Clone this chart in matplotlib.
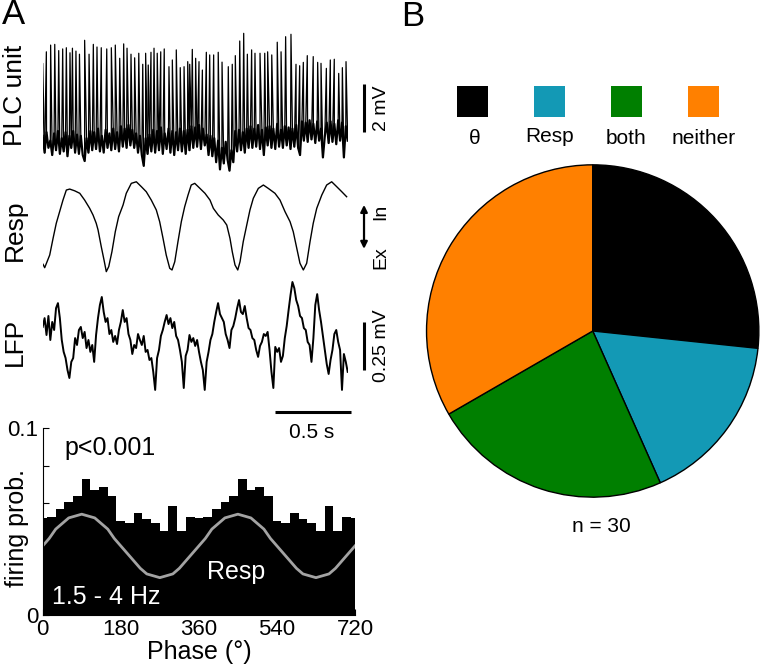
import numpy as np
import matplotlib
matplotlib.use("Agg")
import matplotlib.pyplot as plt
from matplotlib.patches import Rectangle

plt.rcParams['font.family'] = ['Liberation Sans', 'DejaVu Sans']

# ---------------- data ----------------
# PLC unit: baseline samples (mV) every 12.5 ms over 2 s
plc_dt = 0.0125
plc_baseline_mv = [
    0.3, -0.4, 0.45, -0.2, 0.1, -0.5, 0.4, -0.3, 0.5, -0.45, 0.2, -0.35, 0.45, -0.55, 0.3, -0.2, 0.5, -0.4, 0.35, -0.45,
    0.3, -0.5, -0.75, 0.2, -0.4,
    0.5, -0.3, 0.45, -0.25, 0.6, -0.35, 0.3, -0.4, 0.55, -0.2, 0.4, -0.3, 0.6, -0.25, 0.45, -0.35,
    0.7, -0.15, 0.6, -0.2, 0.75, -0.1, 0.55, -0.2,
    0.4, -0.4, 0.3, -0.5, -0.95, 0.2, -0.45, 0.35,
    -0.35, 0.55, -0.4, 0.5, -0.3, 0.65, -0.45, 0.4, -0.25, 0.6, -0.4, 0.5, -0.5, 0.45, -0.3, 0.6, -0.35, 0.5, -0.45, 0.55, -0.3,
    0.7, -0.2, 0.65, -0.15, 0.75, -0.25, 0.6, -0.1,
    0.35, -0.5, 0.3, -0.55, 0.2,
    -0.8, 0.1, -1.1, -0.2, -0.85, 0.05, -0.7, -1.15, -0.3, -0.8,
    0.5, -0.35, 0.55, -0.3, 0.45, -0.4, 0.6, -0.2,
    0.7, -0.2, 0.6, -0.15, 0.75, -0.25, 0.55, -0.5, 0.65, -0.1, 0.7, -0.2, 0.6, -0.25, 0.8, -0.15, 0.55, -0.2, 0.7, -0.1,
    0.65, -0.25, 0.6, -0.15, 0.75, -0.2,
    -0.5, 0.9, 0.1, 0.85, 0.05, 0.95, 0.15, 0.8, 0.0, 0.9, 0.1,
    0.6, -0.6, 0.3,
    0.85, 0.0, 0.9, 0.05, 0.8, -0.05, 0.95, 0.1, 0.85, -0.6, 0.7, 0.1,
]
spike_t = [0.000, 0.024, 0.052, 0.079, 0.105, 0.131, 0.155, 0.179, 0.195, 0.218, 0.241, 0.275, 0.304, 0.332,
           0.356, 0.384, 0.420, 0.450, 0.476, 0.505, 0.531, 0.553, 0.579, 0.603, 0.630, 0.656, 0.675, 0.692,
           0.710, 0.730, 0.751, 0.774, 0.797, 0.828, 0.850, 0.876, 0.902, 0.927, 0.951, 0.964, 0.981, 1.003,
           1.025, 1.047, 1.073, 1.095, 1.121, 1.151, 1.176, 1.217, 1.243, 1.263, 1.292, 1.318, 1.342, 1.370,
           1.392, 1.425, 1.456, 1.475, 1.502, 1.538, 1.563, 1.593, 1.628, 1.661, 1.685, 1.709, 1.735, 1.774,
           1.803, 1.825, 1.860, 1.886, 1.912, 1.941, 1.965, 1.989]
spike_peak_mv = [3.32, 3.80, 4.08, 4.11, 3.85, 3.92, 3.97, 3.76, 3.95, 3.83, 3.70, 4.28, 3.70, 4.11,
                 4.00, 3.97, 3.92, 3.97, 4.08, 3.53, 4.13, 3.95, 3.70, 3.55, 3.74, 3.28, 3.74, 3.25,
                 3.78, 3.95, 3.74, 3.80, 3.92, 3.18, 3.46, 3.88, 3.14, 3.18, 3.39, 3.28, 3.90, 3.53,
                 3.39, 3.04, 3.78, 3.67, 3.67, 3.78, 3.37, 3.18, 3.28, 3.64, 4.25, 4.57, 3.70, 3.88,
                 3.74, 3.74, 3.74, 3.80, 3.67, 4.20, 3.80, 4.43, 4.53, 3.28, 3.22, 3.36, 3.64, 3.60,
                 3.36, 3.32, 3.11, 3.46, 3.49, 2.90, 3.14, 3.39]

# Respiration (normalized, inspiration up)
resp_t = [0.002, 0.013, 0.046, 0.068, 0.089, 0.111, 0.133, 0.155, 0.177, 0.210, 0.243, 0.275, 0.308, 0.330,
          0.351, 0.363, 0.384, 0.402, 0.417, 0.433, 0.454, 0.476, 0.498, 0.527, 0.548, 0.581, 0.614, 0.647,
          0.679, 0.712, 0.745, 0.767, 0.789, 0.810, 0.833, 0.848, 0.866, 0.887, 0.909, 0.931, 0.953, 0.974,
          0.997, 1.031, 1.064, 1.097, 1.119, 1.151, 1.184, 1.207, 1.228, 1.243, 1.261, 1.279, 1.294, 1.315,
          1.338, 1.359, 1.381, 1.414, 1.447, 1.479, 1.523, 1.556, 1.589, 1.622, 1.643, 1.666, 1.687, 1.709,
          1.731, 1.753, 1.774, 1.797, 1.830, 1.862, 1.895, 1.928, 1.961, 1.993]
resp_v = [0.065, 0.026, 0.170, 0.360, 0.531, 0.663, 0.795, 0.909, 0.92, 0.90, 0.872, 0.795, 0.701, 0.625,
          0.531, 0.455, 0.265, 0.114, -0.019, 0.038, 0.208, 0.435, 0.606, 0.739, 0.872, 0.985, 1.003, 0.947,
          0.890, 0.795, 0.682, 0.549, 0.360, 0.170, 0.019, 0.000, 0.094, 0.322, 0.549, 0.719, 0.852, 0.966,
          0.985, 0.928, 0.872, 0.795, 0.701, 0.625, 0.568, 0.511, 0.360, 0.208, 0.057, 0.000, 0.094, 0.322,
          0.511, 0.682, 0.815, 0.928, 0.966, 0.928, 0.872, 0.795, 0.663, 0.549, 0.435, 0.247, 0.076, 0.000,
          0.076, 0.322, 0.531, 0.701, 0.852, 0.966, 1.003, 0.947, 0.890, 0.833]

# LFP (µV) every 12.5 ms
lfp_dt = 0.0125
lfp_uv = [42, 88, 0, 99, -26, 68, 26, 140, 166, 88, -26, -88, -120, -182, -224, -140, -120, -16, -52, 26,
          42, -16, 16, -68, -26, -88, -52, -140, 0, 88, 156, 198, 120, 68, 88, 5, 26, -36, -5, -47,
          26, 68, 130, 68, 88, 5, -26, -99, -52, -68, 5, -26, -52, -5, -88, -78, -130, -120, -192, -286,
          -120, -78, -5, 26, 68, 104, 57, 88, 36, 68, -5, -26, -78, -140, -276, -109, -78, 0, -36, -16,
          -57, -26, -88, -140, -182, -286, -140, -88, -26, 5, 68, 120, 166, 109, 88, 68, 5, -26, -68, 26,
          47, 88, 140, 182, 120, 109, 151, 88, 36, 26, -16, -26, -78, -114, -57, -36, 5, -5, 16, -78,
          -192, -276, -62, -88, -68, -140, -109, -16, 47, 130, 208, 276, 244, 182, 151, 99, 88, 36, 26, -36,
          -52, -140, -16, 156, 213, 130, 68, -5, -78, -151, -203, -130, -78, 5, 26, -36, -78, -286, -99, -140,
          -192]

# Phase histogram (one respiratory cycle, 20° bins, shown twice)
bin_deg = [0, 20, 40, 60, 80, 100, 120, 140, 160, 180, 200, 220, 240, 260, 280, 300, 320, 340]
firing_prob = [0.0518, 0.0523, 0.0566, 0.0604, 0.0639, 0.0730, 0.0670, 0.0688, 0.0638,
               0.0502, 0.0495, 0.0545, 0.0513, 0.0491, 0.0452, 0.0584, 0.0452, 0.0527]
ref_deg = [0, 15, 30, 45, 60, 75, 90, 105, 120, 135, 150, 165, 180, 195, 210, 225, 240, 255, 270,
           285, 300, 315, 330, 345]
ref_resp = [0.037, 0.041, 0.046, 0.049, 0.052, 0.053, 0.054, 0.053, 0.052, 0.049, 0.046, 0.041,
            0.037, 0.033, 0.029, 0.025, 0.022, 0.021, 0.020, 0.021, 0.022, 0.025, 0.029, 0.033]

# Pie
pie_labels = ['θ', 'Resp', 'both', 'neither']
pie_counts = [8, 5, 7, 10]
pie_colors = ['#000000', '#1399b5', '#007f00', '#ff8000']

# ---------------- figure ----------------
W, H = 762, 672
fig = plt.figure(figsize=(W / 100, H / 100), dpi=100)


def px_axes(x0, y0, x1, y1):
    return fig.add_axes([x0 / W, 1 - y1 / H, (x1 - x0) / W, (y1 - y0) / H])


def ftext(x, y, s, **kw):
    kw.setdefault('ha', 'center')
    kw.setdefault('va', 'center')
    return fig.text(x / W, 1 - y / H, s, **kw)


TX0, TX1 = 42.7, 347.7  # trace span, 0..2 s

# PLC unit trace: dense baseline plus spikes
base = np.array(plc_baseline_mv)
base_t = np.arange(len(base)) * plc_dt
ax1 = px_axes(TX0, 25, TX1, 175)
ax1.plot(base_t, base, color='black', lw=1.6)
for ts, pk in zip(spike_t, spike_peak_mv):
    i = min(int(ts / plc_dt), len(base) - 2)
    ax1.plot([base_t[i], ts, base_t[i + 1]], [base[i], pk, base[i + 1]], color='black', lw=0.9)
ax1.set_xlim(0, 2.0)
ax1.set_ylim(-1.333, 4.917)
ax1.axis('off')
ax1.plot([2.107, 2.107], [0.458, 2.458], color='black', lw=2.2, clip_on=False, solid_capstyle='butt')

# Resp trace
ax2 = px_axes(TX0, 175, TX1, 280)
ax2.plot(resp_t, resp_v, color='black', lw=1.0)
ax2.set_xlim(0, 2.0)
ax2.set_ylim(-0.114, 1.08)
ax2.axis('off')
ax2.annotate('', xy=(2.107, 0.74), xytext=(2.107, 0.24), annotation_clip=False,
             arrowprops=dict(arrowstyle='<|-|>', color='black', lw=1.6, mutation_scale=10,
                             shrinkA=0, shrinkB=0))

# LFP trace
ax3 = px_axes(TX0, 275, TX1, 420)
lfp_t = np.arange(len(lfp_uv)) * lfp_dt
ax3.plot(lfp_t, lfp_uv, color='black', lw=1.4)
ax3.set_xlim(0, 2.0)
ax3.set_ylim(-442.7, 312.5)
ax3.axis('off')
ax3.plot([2.107, 2.107], [-180, 70], color='black', lw=2.2, clip_on=False, solid_capstyle='butt')
ax3.plot([1.523, 2.023], [-402.6, -402.6], color='black', lw=2.2, clip_on=False, solid_capstyle='butt')

# Phase histogram
ax4 = px_axes(42.7, 428.3, 355, 615)
centers = np.concatenate([np.array(bin_deg), np.array(bin_deg) + 360, [720]])
probs = np.concatenate([firing_prob, firing_prob, firing_prob[:1]])
ax4.bar(centers, probs, width=20, color='black', align='center', linewidth=0)
ref_x = np.concatenate([ref_deg, np.array(ref_deg) + 360, [720]])
ref_y = np.concatenate([ref_resp, ref_resp, ref_resp[:1]])
ax4.plot(ref_x, ref_y, color='#a3a3a3', lw=2.0)
ax4.set_xlim(0, 720)
ax4.set_ylim(0, 0.1)
for s in ['top', 'right']:
    ax4.spines[s].set_visible(False)
for s in ['left', 'bottom']:
    ax4.spines[s].set_linewidth(0.8)
ax4.set_xticks([0, 180, 360, 540, 720])
ax4.set_yticks([0, 0.02, 0.04, 0.06, 0.08, 0.1])
ax4.set_yticklabels(['0', '', '', '', '', '0.1'])
ax4.tick_params(direction='in', length=4, width=0.8, labelsize=16, pad=3)
ax4.set_xlabel('Phase (°)', fontsize=18, labelpad=0)
ax4.text(0.215, 0.895, 'p<0.001', transform=ax4.transAxes, fontsize=18, ha='center', va='center')
ax4.text(0.62, 0.23, 'Resp', transform=ax4.transAxes, color='white', fontsize=18, ha='center', va='center')
ax4.text(0.205, 0.095, '1.5 - 4 Hz', transform=ax4.transAxes, color='white', fontsize=18, ha='center', va='center')
ftext(17, 528, 'firing prob.', fontsize=18, rotation=90)

# Pie
ax5 = px_axes(425.7, 164, 759.7, 498)
ax5.pie(pie_counts, colors=pie_colors, startangle=90, counterclock=False,
        wedgeprops=dict(edgecolor='black', linewidth=1.0))
ax5.set_xlim(-1.005, 1.005)
ax5.set_ylim(-1.005, 1.005)

# Legend of pie (squares above labels)
sq_cx = [472, 549.5, 626.5, 703.5]
lab_y = [138, 136, 138, 138]
for cx, col, lab, ly in zip(sq_cx, pie_colors, pie_labels, lab_y):
    fig.add_artist(Rectangle(((cx - 15.5) / W, 1 - 117 / H), 31 / W, 31 / H,
                             transform=fig.transFigure, facecolor=col, edgecolor='none'))
    ftext(cx + (3 if lab == 'θ' else 0), ly, lab, fontsize=15)

ftext(601.7, 527, 'n = 30', fontsize=15)

# Labels / annotations
ftext(13.5, 15, 'A', fontsize=25)
ftext(412.5, 16, 'B', fontsize=25)
ftext(15, 95, 'PLC unit', fontsize=19, rotation=90)
ftext(15, 230, 'Resp', fontsize=19, rotation=90)
ftext(15, 342, 'LFP', fontsize=19, rotation=90)
ftext(381, 108, '2 mV', fontsize=14, rotation=90)
ftext(381, 212, 'In', fontsize=14, rotation=90)
ftext(381, 258, 'Ex', fontsize=14, rotation=90)
ftext(381, 346, '0.25 mV', fontsize=14, rotation=90)
ftext(311.7, 433, '0.5 s', fontsize=15)

fig.savefig('out.png', dpi=100)
